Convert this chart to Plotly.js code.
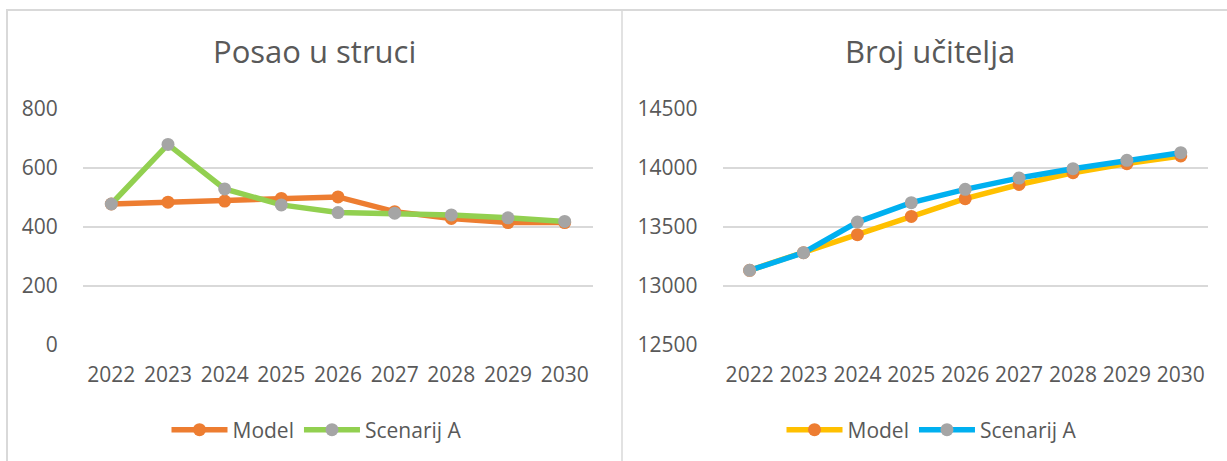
<!DOCTYPE html>
<html>
<head>
<meta charset="utf-8">
<script src="https://cdn.plot.ly/plotly-3.0.1.min.js"></script>
<style>html,body{margin:0;padding:0;background:#fff;}#chart{width:1227px;height:461px;}</style>
</head>
<body>
<div id="chart"></div>
<script>
const years = ['2022','2023','2024','2025','2026','2027','2028','2029','2030'];
const posaoModel = [478, 484, 488, 497, 502, 452, 429, 415, 415];
const posaoScenarij = [478, 680, 529, 475, 449, 447, 441, 431, 419];
const uciteljiModel = [13133, 13282, 13435, 13590, 13740, 13860, 13960, 14037, 14102];
const uciteljiScenarij = [13133, 13282, 13542, 13706, 13819, 13915, 13994, 14065, 14130];
const leftTicks = [0, 200, 400, 600, 800];
const leftTickLabels = ['0', '200', '400', '600', '800'];
const rightTicks = [12500, 13000, 13500, 14000, 14500];
const rightTickLabels = ['12500', '13000', '13500', '14000', '14500'];
const titles = ['Posao u struci', 'Broj učitelja'];
const seriesNames = ['Model', 'Scenarij A'];

const W = 1227, H = 461;
const txt = '#595959';
const grid = '#D9D9D9';
const fontFam = '"Open Sans", "Noto Sans", sans-serif';

function tr(y, name, lineColor, markerColor, xa, ya, leg) {
  return {
    x: years, y: y, name: name, type: 'scatter', mode: 'lines+markers',
    xaxis: xa, yaxis: ya, legend: leg,
    line: {color: lineColor, width: 5.5},
    marker: {color: markerColor, size: 13},
    hoverinfo: 'x+y+name'
  };
}

const data = [
  tr(posaoModel, seriesNames[0], '#ED7D31', '#ED7D31', 'x', 'y', 'legend'),
  tr(posaoScenarij, seriesNames[1], '#92D050', '#A5A5A5', 'x', 'y', 'legend'),
  tr(uciteljiModel, seriesNames[0], '#FFC000', '#ED7D31', 'x2', 'y2', 'legend2'),
  tr(uciteljiScenarij, seriesNames[1], '#00B0F0', '#A5A5A5', 'x2', 'y2', 'legend2')
];

const yDom = [(H - 345) / H, (H - 109) / H];
const xAxisCommon = {
  type: 'category', showgrid: false, zeroline: false, showline: false,
  range: [-0.5, years.length - 0.5], autorange: false,
  ticks: 'outside', ticklen: 11, tickcolor: 'rgba(0,0,0,0)',
  tickfont: {family: fontFam, size: 21, color: txt}, fixedrange: true
};
const yAxisCommon = {
  showgrid: true, gridcolor: grid, gridwidth: 2, zeroline: false, showline: false,
  ticks: 'outside', ticklen: 20, tickcolor: 'rgba(0,0,0,0)',
  tickfont: {family: fontFam, size: 21, color: txt}, fixedrange: true, domain: yDom
};

const legCommon = {
  orientation: 'h', xanchor: 'center', yanchor: 'middle', y: (H - 430) / H,
  font: {family: fontFam, size: 21, color: txt}, itemwidth: 56,
  bgcolor: 'rgba(0,0,0,0)', itemclick: false, itemdoubleclick: false
};

const layout = {
  width: W, height: H,
  margin: {l: 0, r: 0, t: 0, b: 0},
  paper_bgcolor: '#fff', plot_bgcolor: 'rgba(0,0,0,0)',
  showlegend: true,
  xaxis: Object.assign({}, xAxisCommon, {domain: [83 / W, 593 / W], anchor: 'y'}),
  yaxis: Object.assign({}, yAxisCommon, {range: [0, 800], tickmode: 'array', tickvals: leftTicks, ticktext: leftTickLabels, anchor: 'x'}),
  xaxis2: Object.assign({}, xAxisCommon, {domain: [722.7 / W, 1207.7 / W], anchor: 'y2'}),
  yaxis2: Object.assign({}, yAxisCommon, {range: [12500, 14500], tickmode: 'array', tickvals: rightTicks, ticktext: rightTickLabels, anchor: 'x2'}),
  legend: Object.assign({}, legCommon, {x: 317 / W}),
  legend2: Object.assign({}, legCommon, {x: 932 / W}),
  annotations: [
    {text: titles[0], xref: 'paper', yref: 'paper', x: 314.5 / W, y: (H - 51) / H,
     xanchor: 'center', yanchor: 'middle', showarrow: false,
     font: {family: fontFam, size: 31, color: txt}},
    {text: titles[1], xref: 'paper', yref: 'paper', x: 930 / W, y: (H - 51) / H,
     xanchor: 'center', yanchor: 'middle', showarrow: false,
     font: {family: fontFam, size: 31, color: txt}}
  ],
  shapes: [
    {type: 'line', xref: 'paper', yref: 'paper', x0: 6 / W, x1: 1, y0: (H - 10) / H, y1: (H - 10) / H,
     line: {color: grid, width: 2}, layer: 'below'},
    {type: 'line', xref: 'paper', yref: 'paper', x0: 7 / W, x1: 7 / W, y0: 0, y1: (H - 10) / H,
     line: {color: grid, width: 2}, layer: 'below'},
    {type: 'line', xref: 'paper', yref: 'paper', x0: 622 / W, x1: 622 / W, y0: 0, y1: (H - 10) / H,
     line: {color: grid, width: 1.5}, layer: 'below'}
  ]
};

Plotly.newPlot('chart', data, layout, {displayModeBar: false, staticPlot: false});
</script>
</body>
</html>
